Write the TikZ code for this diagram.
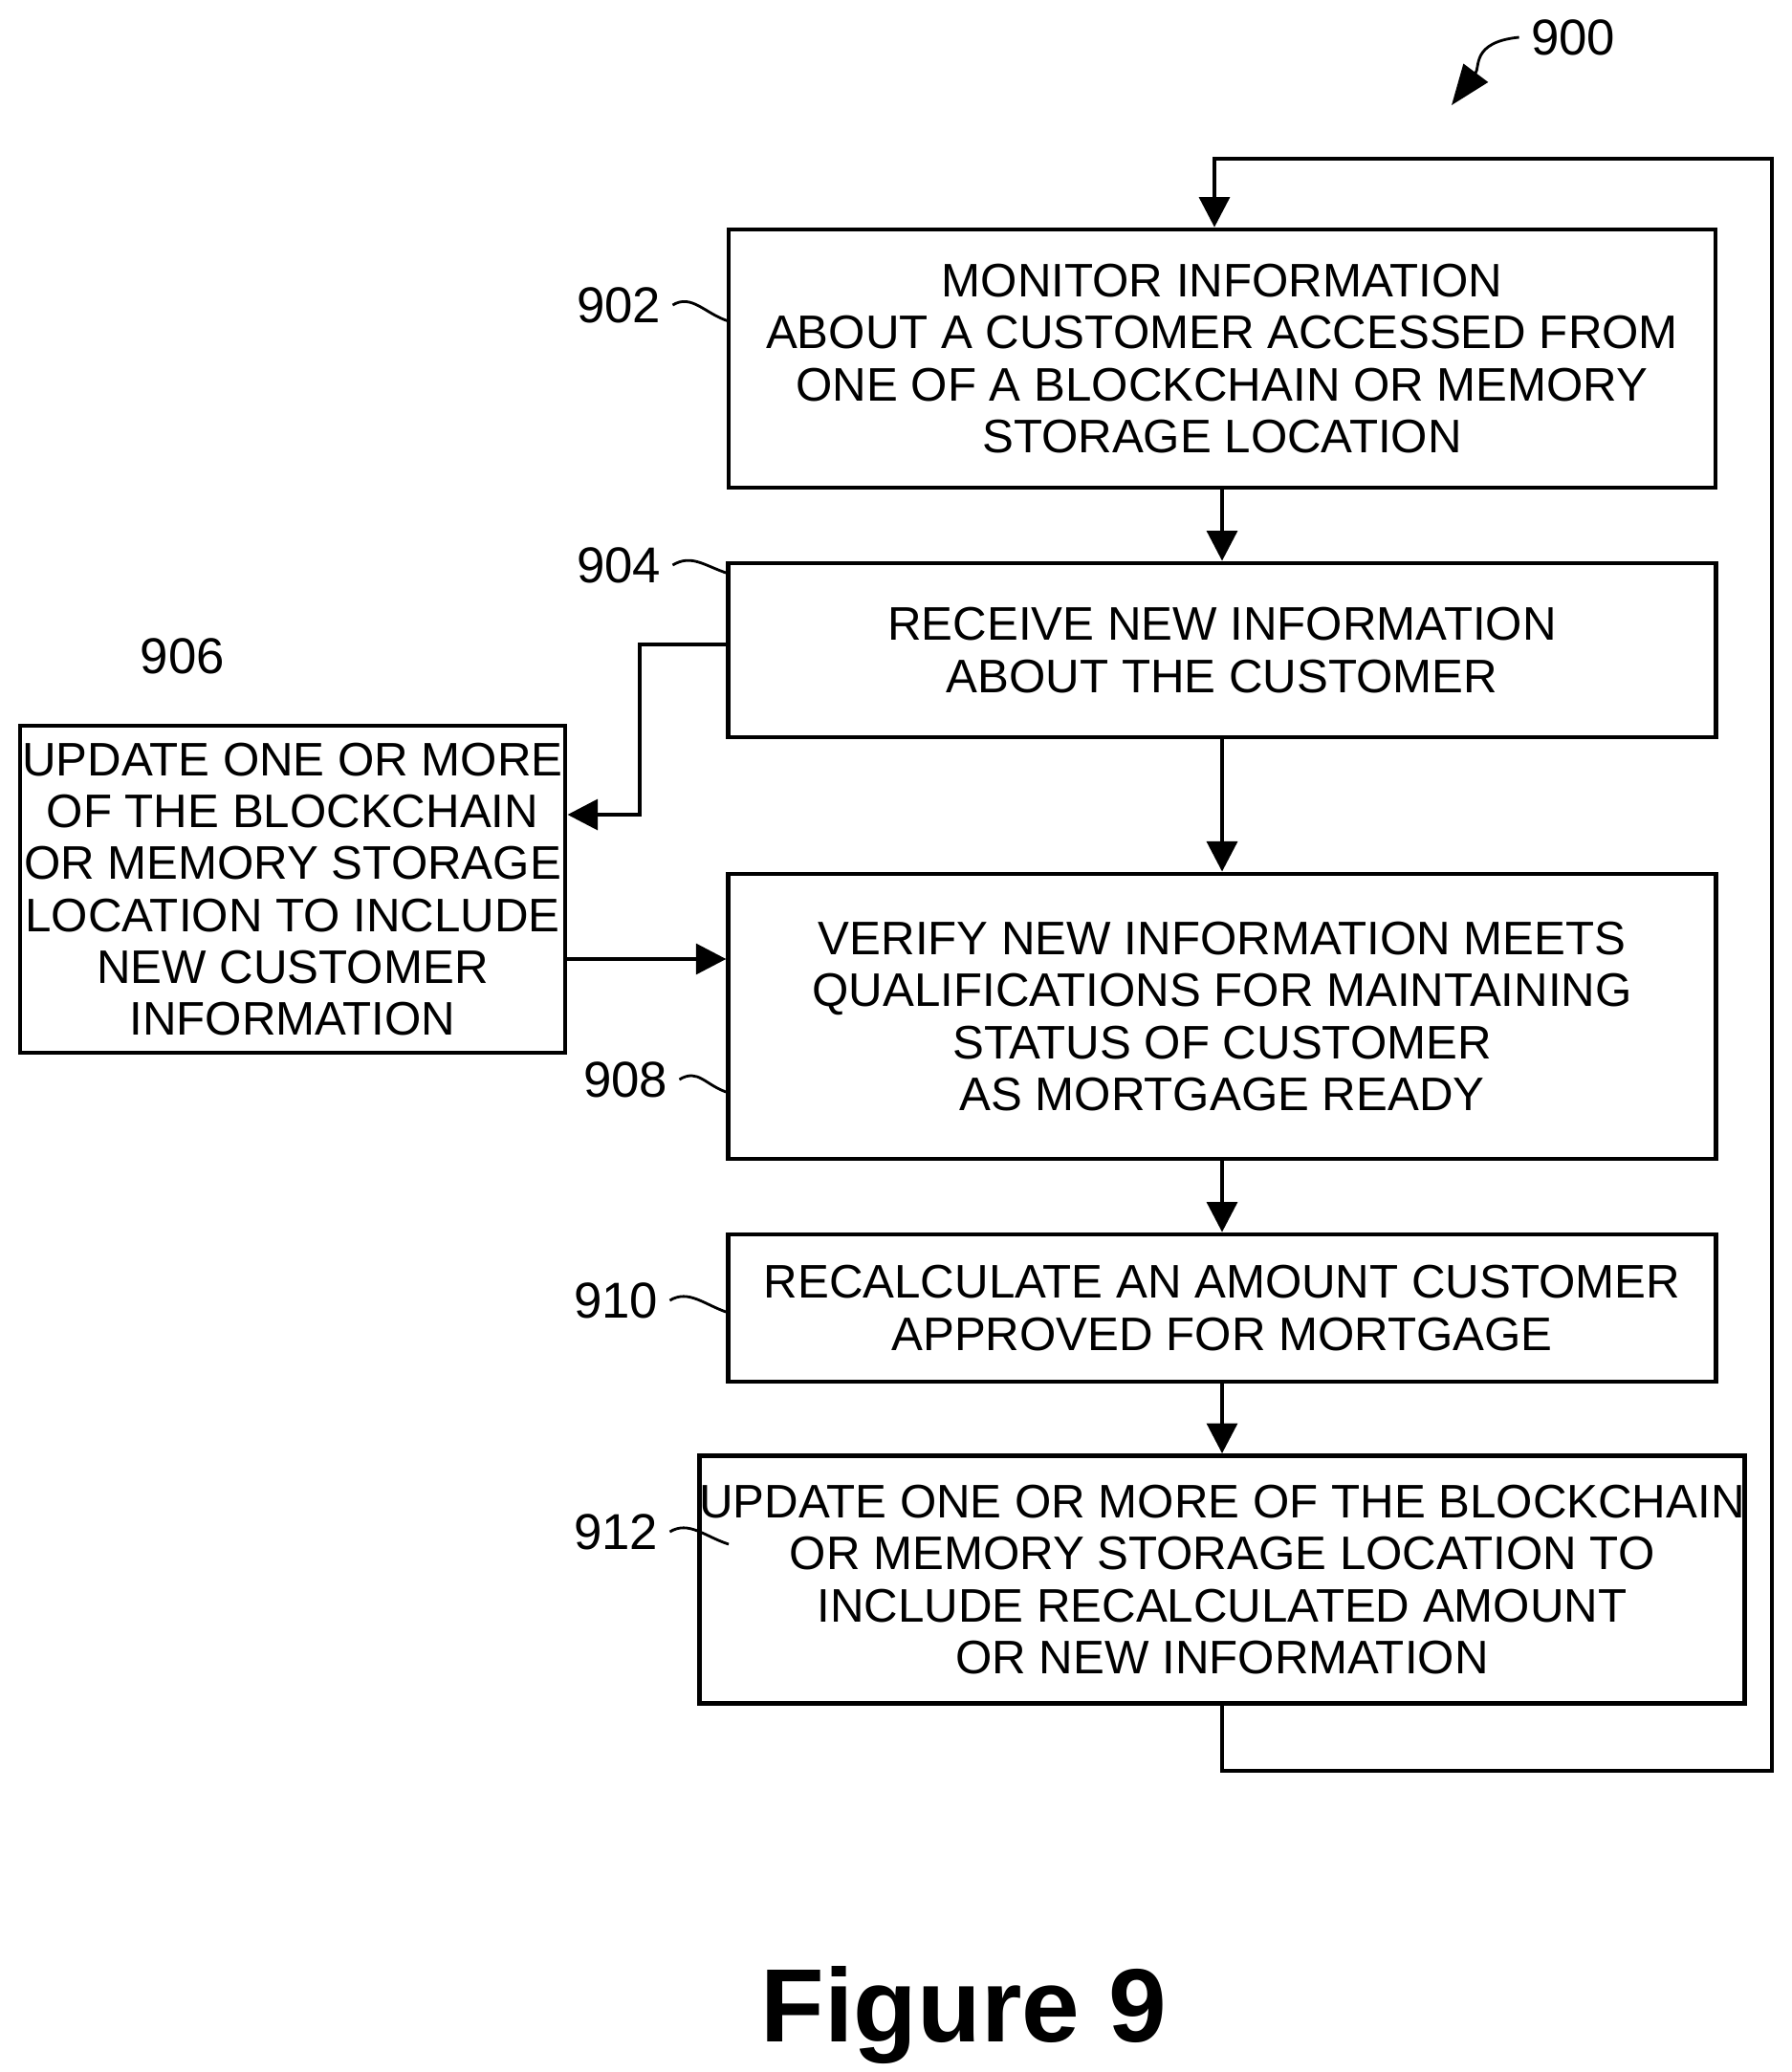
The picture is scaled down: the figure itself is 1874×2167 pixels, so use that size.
\documentclass[tikz,border=0pt]{standalone}
\usepackage{fontspec}
\setmainfont{Liberation Sans}
\usetikzlibrary{arrows.meta}
\begin{document}
\begin{tikzpicture}[x=0.01cm,y=-0.01cm,
  box/.style={draw,line width=1.3pt,inner sep=0pt,align=center,font=\fontsize{14}{15.4}\selectfont},
  arr/.style={line width=1.3pt,-{Triangle[length=9pt,width=9pt]}},
  lnk/.style={line width=1.3pt},
  lab/.style={font=\fontsize{15}{16}\selectfont},
  lead/.style={line width=0.8pt}]
\useasboundingbox (0,0) rectangle (1874,2167);
\node[box,minimum width=1032\pgflinewidth*0+1032*0.01cm,minimum height=270*0.01cm] (b902) at (1278,375) {MONITOR INFORMATION\\ABOUT A CUSTOMER ACCESSED FROM\\ONE OF A BLOCKCHAIN OR MEMORY\\STORAGE LOCATION};
\node[box,minimum width=10.32cm,minimum height=1.82cm] (b904) at (1278,680) {RECEIVE NEW INFORMATION\\ABOUT THE CUSTOMER};
\node[box,minimum width=5.70cm,minimum height=3.42cm] (b906) at (306,930) {UPDATE ONE OR MORE\\OF THE BLOCKCHAIN\\OR MEMORY STORAGE\\LOCATION TO INCLUDE\\NEW CUSTOMER\\INFORMATION};
\node[box,minimum width=10.32cm,minimum height=2.98cm] (b908) at (1278,1063) {VERIFY NEW INFORMATION MEETS\\QUALIFICATIONS FOR MAINTAINING\\STATUS OF CUSTOMER\\AS MORTGAGE READY};
\node[box,minimum width=10.32cm,minimum height=1.54cm] (b910) at (1278,1368) {RECALCULATE AN AMOUNT CUSTOMER\\APPROVED FOR MORTGAGE};
\node[box,minimum width=10.32cm,minimum height=2.59cm] (b912) at (1278,1652) {UPDATE ONE OR MORE OF THE BLOCKCHAIN\\OR MEMORY STORAGE LOCATION TO\\INCLUDE RECALCULATED AMOUNT\\OR NEW INFORMATION};
\draw[arr] (b902) -- (b904);
\draw[arr] (b904) -- (b908);
\draw[arr] (b908) -- (b910);
\draw[arr] (b910) -- (b912);
\coordinate (c1) at (669,674);
\coordinate (c2) at (669,852);
\draw[arr] (b904.west |- c1) -- (c1) -- (c2) -- (b906.east |- c2);
\draw[arr] (b906.east |- 0,1003) -- (b908.west |- 0,1003);
\coordinate (f1) at (1278,1852);
\coordinate (f2) at (1853,1852);
\coordinate (f3) at (1853,166);
\coordinate (f4) at (1270,166);
\draw[arr] (b912.south) -- (f1) -- (f2) -- (f3) -- (f4) -- (b902.north -| f4);
\node[lab] (l902) at (647,319) {902};
\node[lab] (l904) at (647,591) {904};
\node[lab] (l906) at (191,686) {906};
\node[lab] (l908) at (654,1129) {908};
\node[lab] (l910) at (644,1360) {910};
\node[lab] (l912) at (644,1602) {912};
\node[lab] (l900) at (1645,39) {900};
\foreach \n/\y in {902/336,904/600,908/1143,910/1373,912/1615}
  \draw[lead] (l\n.east) .. controls +(20,-12) and +(-25,-8) .. (762,\y);
\draw[lead,-{Triangle[length=12pt,width=9pt]}] (l900.west) .. controls +(-50,5) and +(30,-40) .. (1518,110);
\node[font=\bfseries\fontsize{31}{34}\selectfont] (fig) at (1008,2108) {Figure 9};
\end{tikzpicture}
\end{document}
